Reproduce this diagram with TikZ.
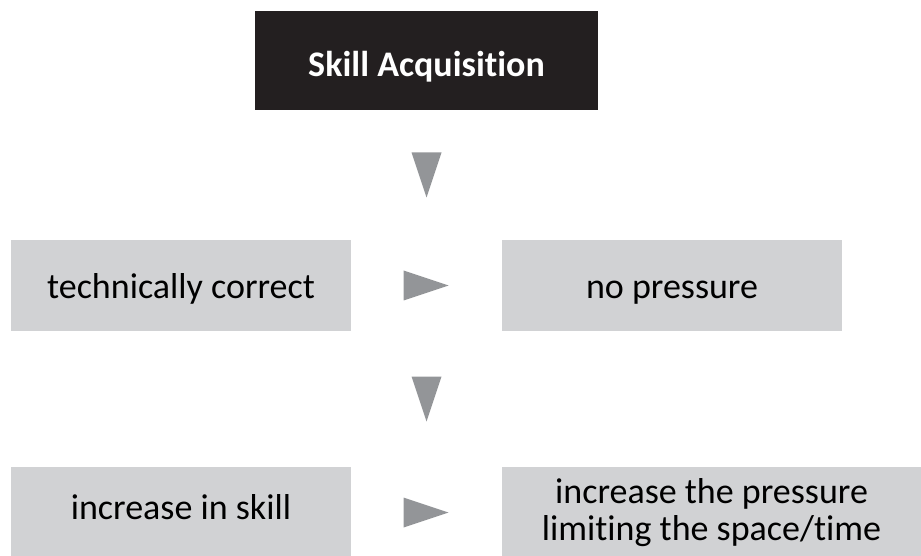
\documentclass[tikz,border=0pt]{standalone}
\usepackage{fontspec}
\setmainfont[Ligatures={NoCommon}]{Carlito}
\usepackage{tikz}
\usetikzlibrary{calc}
\definecolor{boxgray}{HTML}{D1D2D4}
\definecolor{markgray}{HTML}{939598}
\definecolor{headblack}{HTML}{231F20}

\begin{document}
\begin{tikzpicture}[x=1pt, y=1pt,
  stage/.style={fill=boxgray, text=black, minimum width=340pt, minimum height=91pt, inner sep=0pt, align=center, font=\fontsize{36}{37}\selectfont},
  oneline/.style={text height=32pt, text depth=7pt},
  headstage/.style={stage, fill=headblack, text=white, minimum width=343pt, minimum height=99pt, text height=36pt, text depth=3pt, font=\fontsize{36}{37}\selectfont\bfseries},
  flowmark/.style={fill=markgray}]
  \useasboundingbox (0,0) rectangle (921,555);
  \node[headstage] (skill) at (426.5,494.5) {Skill Acquisition};
  \node[stage, oneline] (tech) at (181,269.5) {technically correct};
  \node[stage, oneline] (nopress) at (672,269.5) {no pressure};
  \node[stage, text height=20pt, text depth=7pt] (incskill) at (181,42.5) {increase in skill};
  \node[stage, minimum width=419pt] (incpress) at (711.5,42.5) {increase the pressure\\limiting the space/time};
  % markers between the stages
  \coordinate (down1) at ($(skill.south)!0.5!(skill.south |- tech.north)$);
  \coordinate (down2) at ($(skill.south |- tech.south)!0.5!(skill.south |- incskill.north)$);
  \coordinate (right1) at ($(tech.east)!0.5!(nopress.west)$);
  \coordinate (right2) at ($(incskill.east)!0.5!(incpress.west)$);
  \foreach \m in {down1,down2}
    \fill[flowmark, shift={(\m)}] (-15,22.5) -- (15,22.5) -- (0,-22.5) -- cycle;
  \foreach \m in {right1,right2}
    \fill[flowmark, shift={(\m)}] (-23,15) -- (22,0) -- (-23,-15) -- cycle;
\end{tikzpicture}
\end{document}
